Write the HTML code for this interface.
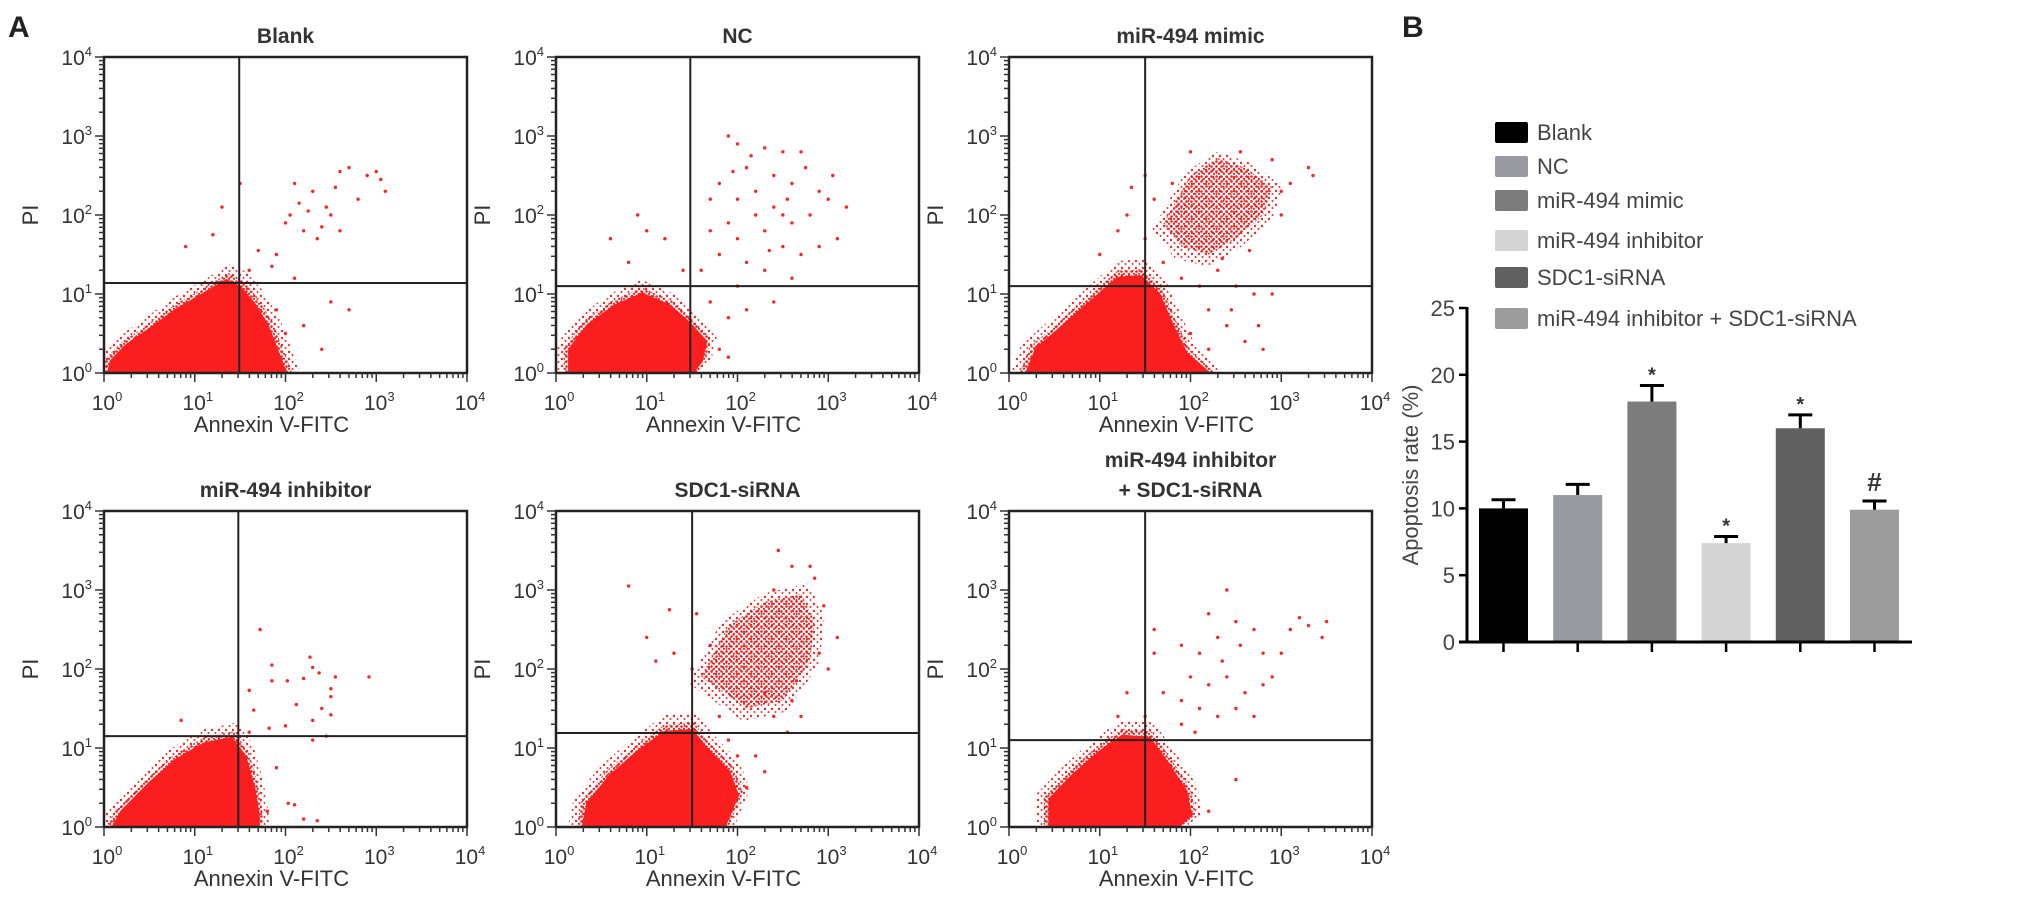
<!DOCTYPE html>
<html><head><meta charset="utf-8">
<style>
html,body{margin:0;padding:0;background:#fff;}
svg{display:block;font-family:"Liberation Sans",Arial,sans-serif;}
</style></head>
<body>
<svg id="fig" width="2031" height="901" viewBox="0 0 2031 901">
<defs>
<pattern id="dots" width="5" height="5" patternUnits="userSpaceOnUse">
<circle cx="1.5" cy="1.5" r="1.3" fill="#f21c1c"/><circle cx="4" cy="3.8" r="1.1" fill="#f21c1c"/>
</pattern>
<pattern id="dotsSparse" width="7" height="7" patternUnits="userSpaceOnUse">
<circle cx="2" cy="2" r="1.2" fill="#f22"/><circle cx="5.5" cy="5" r="1" fill="#f22"/>
</pattern>
</defs>
<text x="8" y="37" font-size="30" font-weight="bold" fill="#222">A</text>
<text x="1402" y="37" font-size="30" font-weight="bold" fill="#222">B</text>
<g id="flows"></g>
<g id="bars"></g>
</svg>
<script>
// ---------- Panel A: flow cytometry plots ----------
const plotTitles = [["Blank"],["NC"],["miR-494 mimic"],["miR-494 inhibitor"],["SDC1-siRNA"],["miR-494 inhibitor","+ SDC1-siRNA"]];
const gateX = [1.49, 1.48, 1.5, 1.48, 1.5, 1.5];
const gateY = [1.14, 1.1, 1.1, 1.15, 1.19, 1.1];
const decadeLabels = ["0","1","2","3","4"];
// dense main population outlines (log10 decades)
const blobBlank = [[0.05,0],[0.08,0.15],[0.25,0.35],[0.5,0.55],[0.8,0.8],[1.1,1.0],[1.35,1.17],[1.5,1.08],[1.65,0.88],[1.8,0.6],[1.9,0.3],[2.0,0]];
const blobNC = [[0.15,0],[0.15,0.3],[0.35,0.6],[0.65,0.85],[0.95,1.0],[1.25,0.85],[1.45,0.65],[1.65,0.4],[1.6,0.15],[1.5,0]];
const blobMimic = [[0.2,0],[0.3,0.3],[0.6,0.6],[0.9,0.9],[1.2,1.2],[1.45,1.22],[1.65,1.0],[1.8,0.6],[1.95,0.25],[2.2,0]];
const blobInhib = [[0.1,0],[0.2,0.2],[0.5,0.55],[0.8,0.85],[1.1,1.05],[1.4,1.12],[1.55,0.9],[1.65,0.5],[1.7,0.15],[1.7,0]];
const blobSDC1 = [[0.3,0],[0.35,0.3],[0.6,0.65],[0.9,0.95],[1.2,1.2],[1.5,1.22],[1.65,1.0],[1.9,0.7],[2.0,0.4],[1.85,0]];
const blobCombo = [[0.45,0],[0.45,0.35],[0.7,0.65],[1.0,0.95],[1.25,1.15],[1.55,1.12],[1.75,0.8],[1.95,0.45],[2.0,0.15],[1.85,0]];
const blobs = [blobBlank, blobNC, blobMimic, blobInhib, blobSDC1, blobCombo];
// secondary dense clusters
const clusterMimic = [[1.7,1.9],[2.0,2.5],[2.3,2.72],[2.6,2.6],[2.9,2.35],[2.8,2.0],[2.5,1.7],[2.2,1.5],[1.9,1.6]];
const clusterSDC1 = [[1.6,1.9],[1.9,2.55],[2.3,2.85],[2.7,2.95],[2.85,2.6],[2.8,2.1],[2.5,1.6],[2.1,1.5]];
const clusters = [null, null, clusterMimic, null, clusterSDC1, null];
// sparse events
const ptsBlank = [[2.1,2.4],[2.3,2.3],[2.0,1.9],[2.2,1.8],[2.4,1.85],[2.6,2.55],[2.7,2.6],[2.9,2.5],[3.0,2.55],[3.05,2.45],[2.5,2.0],[2.35,1.7],[1.9,1.5],[1.85,1.35],[2.6,1.8],[2.8,2.2],[2.25,2.05],[1.3,2.1],[1.5,2.4],[1.2,1.75],[0.9,1.6],[2.2,0.6],[2.5,0.9],[2.0,0.5],[2.4,0.3],[1.9,0.8],[2.1,1.2],[2.7,0.8],[3.1,2.3],[2.45,2.1],[2.05,2.0],[2.15,2.15],[1.7,1.55],[1.6,1.3],[2.55,2.35]];
const ptsNC = [[1.9,3.0],[2.0,2.9],[2.3,2.85],[2.5,2.8],[2.7,2.8],[2.1,2.6],[2.4,2.5],[2.6,2.4],[2.9,2.3],[3.0,2.2],[3.2,2.1],[1.8,2.4],[1.7,2.2],[2.0,2.2],[2.2,2.0],[2.4,2.1],[2.5,2.0],[2.6,1.9],[2.8,2.0],[3.1,1.7],[1.9,1.9],[1.7,1.8],[2.0,1.7],[2.3,1.8],[2.5,1.6],[2.7,1.5],[2.9,1.6],[1.8,1.5],[2.1,1.4],[2.3,1.3],[2.6,1.2],[1.6,1.3],[2.0,1.1],[1.7,0.9],[1.9,0.7],[2.1,0.8],[2.4,0.9],[1.8,0.3],[1.9,0.2],[0.9,2.0],[1.0,1.8],[1.2,1.7],[0.6,1.7],[0.8,1.4],[1.4,1.3],[2.2,2.3],[2.55,2.2],[2.35,1.55],[2.75,2.6],[3.05,2.5],[2.15,2.75],[1.95,2.55]];
const ptsMimic = [[1.5,2.5],[1.3,2.0],[1.2,1.8],[1.0,1.5],[1.5,1.7],[1.7,1.4],[1.9,1.2],[2.1,1.1],[2.3,1.3],[2.5,1.1],[2.7,1.0],[2.9,1.0],[2.2,0.8],[2.4,0.6],[2.6,0.4],[2.8,0.3],[2.0,0.5],[2.2,0.3],[1.9,0.1],[3.0,2.3],[3.1,2.4],[3.3,2.6],[3.35,2.5],[2.9,2.7],[2.55,2.8],[2.0,2.8],[1.8,2.4],[2.35,1.45],[2.65,1.55],[3.0,2.0],[2.45,0.8],[2.75,0.6],[1.35,2.35],[1.6,2.2]];
const ptsInhib = [[1.72,2.5],[1.85,2.05],[1.85,1.85],[2.02,1.85],[2.2,1.88],[2.27,2.15],[2.3,2.02],[2.37,1.95],[2.5,1.75],[2.55,1.9],[2.92,1.9],[2.5,1.65],[2.12,1.55],[2.3,1.35],[2.4,1.5],[2.5,1.42],[1.6,1.73],[1.65,1.48],[2.0,1.28],[2.3,1.1],[2.45,1.15],[1.82,1.25],[1.6,1.2],[1.9,0.75],[2.03,0.3],[2.1,0.28],[2.2,0.1],[2.35,0.08],[1.8,0.2],[0.85,1.35]];
const ptsSDC1 = [[2.45,3.5],[2.6,3.3],[2.8,3.3],[2.85,3.15],[2.4,3.0],[0.8,3.05],[1.25,2.75],[1.0,2.4],[1.1,2.1],[1.3,2.2],[1.5,2.0],[1.55,2.7],[2.9,2.2],[3.0,2.0],[2.6,1.6],[2.7,1.4],[2.55,1.2],[2.4,1.4],[2.3,1.7],[1.8,1.4],[1.9,1.1],[2.0,0.9],[2.2,0.9],[2.3,0.7],[2.1,0.5],[1.85,0.4],[3.1,2.4],[2.95,2.8],[1.7,2.3],[2.65,1.85]];
const ptsCombo = [[2.4,3.0],[2.2,2.7],[2.5,2.6],[2.7,2.5],[3.1,2.5],[3.2,2.65],[3.3,2.55],[3.45,2.4],[3.5,2.6],[1.6,2.5],[1.6,2.2],[1.9,2.3],[2.1,2.2],[2.3,2.4],[2.55,2.3],[2.8,2.2],[3.0,2.2],[2.0,1.9],[2.2,1.8],[2.4,1.9],[2.6,1.7],[2.8,1.8],[1.7,1.7],[1.9,1.6],[2.1,1.5],[2.3,1.4],[2.5,1.5],[2.7,1.4],[1.3,1.7],[1.2,1.4],[1.5,1.4],[1.9,1.3],[2.05,1.2],[2.5,0.6],[2.2,0.2],[2.9,1.9],[2.35,2.1]];
const sparse = [ptsBlank, ptsNC, ptsMimic, ptsInhib, ptsSDC1, ptsCombo];

const NS = "http://www.w3.org/2000/svg";
function mk(tag, attrs, parent){const e=document.createElementNS(NS,tag);for(const k in attrs)e.setAttribute(k,attrs[k]);if(parent)parent.appendChild(e);return e;}
function expand(poly, f){
  const cx=poly.reduce((s,p)=>s+p[0],0)/poly.length, cy=0;
  return poly.map(p=>[cx+(p[0]-cx)*f, cy+(p[1]-cy)*f]);
}
const colLeft=[104,556,1009], rowTop=[57,511], W=363, H=316;
const flows=document.getElementById('flows');
plotTitles.forEach((title,i)=>{
  const L=colLeft[i%3], T=rowTop[Math.floor(i/3)], B=T+H, R=L+W;
  const sx=d=>L+d/4*W, sy=d=>B-d/4*H;
  const g=mk('g',{},flows);
  
  
  const clip=mk('clipPath',{id:'clip'+i},g);
  mk('rect',{x:L,y:T,width:W,height:H},clip);
  const inner=mk('g',{'clip-path':'url(#clip'+i+')'},g);
  title.forEach((t,k)=>{
    const tt=mk('text',{x:L+W/2,y:T-14-(title.length-1-k)*30,'text-anchor':'middle','font-size':'21','font-weight':'bold',fill:'#333'},g);
    tt.textContent=t;
    
    
  });
  const toPts=poly=>poly.map(p=>sx(p[0])+','+sy(p[1])).join(' ');
  // halo of scattered events around main population
  const halo=mk('polygon',{points:toPts(expand(blobs[i],1.18)),fill:'url(#dotsSparse)'},inner);
  
  
  const halo2=mk('polygon',{points:toPts(expand(blobs[i],1.08)),fill:'url(#dots)'},inner);
  
  
  const bl=mk('polygon',{points:toPts(blobs[i]),fill:'#fb1e1e',stroke:'#fb1e1e','stroke-width':3,'stroke-linejoin':'round'},inner);
  
  
  if(clusters[i]){
    const ch=mk('polygon',{points:toPts(clusters[i].map(p=>[2.3+(p[0]-2.3)*1.2,2.3+(p[1]-2.3)*1.2])),fill:'url(#dotsSparse)'},inner);
    
    
    const cl=mk('polygon',{points:toPts(clusters[i]),fill:'url(#dots)'},inner);
    
    
  }
  sparse[i].forEach(p=>{
    const c=mk('circle',{cx:sx(p[0]),cy:sy(p[1]),r:1.7,fill:'#f22'},inner);
    
    
  });
  const box=mk('rect',{x:L,y:T,width:W,height:H,fill:'none',stroke:'#222','stroke-width':2.5},g);
  
  
  const gv=mk('line',{x1:sx(gateX[i]),x2:sx(gateX[i]),y1:T,y2:B,stroke:'#222','stroke-width':2},g);
  
  
  const gh=mk('line',{x1:L,x2:R,y1:sy(gateY[i]),y2:sy(gateY[i]),stroke:'#222','stroke-width':2},g);
  
  
  for(let d=0;d<4;d++){
    for(let m=1;m<10;m++){
      const v=d+Math.log10(m), len=m===1?9:5;
      mk('line',{x1:L,x2:L-len,y1:sy(v),y2:sy(v),stroke:'#333','stroke-width':1.5},g);
      mk('line',{y1:B,y2:B+len,x1:sx(v),x2:sx(v),stroke:'#333','stroke-width':1.5},g);
    }
  }
  mk('line',{x1:L,x2:L-9,y1:T,y2:T,stroke:'#333','stroke-width':1.5},g);
  mk('line',{y1:B,y2:B+9,x1:R,x2:R,stroke:'#333','stroke-width':1.5},g);
  decadeLabels.forEach((lab,d)=>{
    const ty=mk('text',{x:L-12,y:sy(d)+8,'text-anchor':'end','font-size':'21',fill:'#333'},g);
    ty.innerHTML='10<tspan dy="-9" font-size="13">'+lab+'</tspan>';
    
    
    const tx=mk('text',{x:sx(d)+3,y:B+37,'text-anchor':'middle','font-size':'21',fill:'#333'},g);
    tx.innerHTML='10<tspan dy="-9" font-size="13">'+lab+'</tspan>';
    
    
  });
  const yl=mk('text',{x:0,y:0,transform:'translate('+(L-66)+','+sy(2)+') rotate(-90)','text-anchor':'middle','font-size':'22',fill:'#333'},g);
  yl.textContent='PI';
  
  
  const xl=mk('text',{x:L+W/2-14,y:B+59,'text-anchor':'middle','font-size':'22',fill:'#333'},g);
  xl.textContent='Annexin V-FITC';
  
  
});

// ---------- Panel B: bar chart ----------
const groups = ["Blank","NC","miR-494 mimic","miR-494 inhibitor","SDC1-siRNA","miR-494 inhibitor + SDC1-siRNA"];
const rates = [10.0, 11.0, 18.0, 7.4, 16.0, 9.9];
const errors = [0.65, 0.8, 1.2, 0.5, 1.0, 0.65];
const marks = ["","","*","*","*","#"];
const yTicks = [0,5,10,15,20,25];
const colors = ["#000000","#9a9aa2","#7c7c7c","#d4d4d4","#606060","#9c9c9c"];

const bg=document.getElementById('bars');
const y0=642, unit=(642-308)/25, axX=1467, bx0=1503.5, step=74.2, bw=49;
const yv=v=>y0-v*unit, xc=i=>bx0+i*step;
rates.forEach((v,i)=>{
  const r=mk('rect',{x:xc(i)-bw/2,y:yv(v),width:bw,height:y0-yv(v),fill:colors[i]},bg);
  
  
  const e=mk('path',{d:'M'+xc(i)+' '+yv(v)+'V'+yv(v+errors[i])+'M'+(xc(i)-12)+' '+yv(v+errors[i])+'H'+(xc(i)+12),stroke:'#000','stroke-width':3,fill:'none'},bg);
  
  
  mk('line',{x1:xc(i),x2:xc(i),y1:y0,y2:y0+10,stroke:'#000','stroke-width':2.5},bg);
  if(marks[i]){
    const isHash=marks[i]==='#';
    const m=mk('text',{x:xc(i),y:yv(v+errors[i])-(isHash?10:4),'text-anchor':'middle','font-size':isHash?'26':'20',fill:'#333','font-weight':'bold'},bg);
    m.textContent=marks[i];
    
    
  }
});
const ya=mk('line',{x1:axX,x2:axX,y1:yv(25)-1,y2:y0+1,stroke:'#000','stroke-width':3},bg);


const xa=mk('line',{x1:axX-8,x2:1912,y1:y0,y2:y0,stroke:'#000','stroke-width':3},bg);


yTicks.forEach(t=>{
  mk('line',{x1:axX-8,x2:axX,y1:yv(t),y2:yv(t),stroke:'#000','stroke-width':2.5},bg);
  const tl=mk('text',{x:axX-12,y:yv(t)+8,'text-anchor':'end','font-size':'22',fill:'#444'},bg);
  tl.textContent=t;
  
  
});
const yt=mk('text',{x:0,y:0,transform:'translate(1418,475) rotate(-90)','text-anchor':'middle','font-size':'22',fill:'#444'},bg);
yt.textContent='Apoptosis rate (%)';


const legY=[132,166,200,240,277,318];
groups.forEach((gname,i)=>{
  const sw=mk('rect',{x:1495,y:legY[i]-10,width:33,height:21,fill:colors[i],rx:2},bg);
  
  
  const lt=mk('text',{x:1537,y:legY[i]+8,'font-size':'22',fill:'#444'},bg);
  lt.textContent=gname;
  
  
});
</script>
</body></html>
